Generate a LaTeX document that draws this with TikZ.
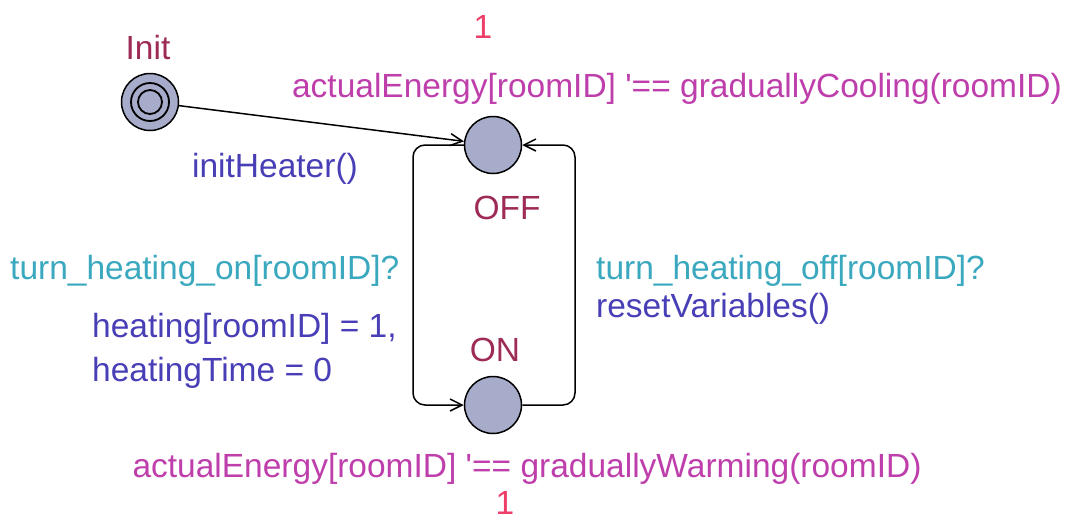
\documentclass[tikz,border=0pt]{standalone}
\usepackage{fontspec}
\setmainfont{Liberation Sans}
\usepackage{tikz}
\usetikzlibrary{arrows.meta, positioning}
\definecolor{locfill}{RGB}{166,172,202}
\definecolor{locname}{RGB}{158,42,86}
\definecolor{invcol}{RGB}{190,62,172}
\definecolor{ratecol}{RGB}{236,62,104}
\definecolor{synccol}{RGB}{58,168,190}
\definecolor{updcol}{RGB}{72,62,182}

\begin{document}
\begin{tikzpicture}[x=1pt, y=-1pt, font=\fontsize{33.5}{38}\selectfont,
    loc/.style={circle, draw, line width=1.5pt, fill=locfill, minimum size=57pt, inner sep=0pt},
    lbl/.style={inner sep=0pt},
    arr/.style={-{Straight Barb[length=12pt, width=12pt]}, line width=1.5pt, rounded corners=12pt}]
    \useasboundingbox (0,0) rectangle (1068,520);
    % locations
    \node[loc] (init) at (150,102) {};
    \draw[line width=1.8pt] (init.center) circle (19pt) (init.center) circle (12pt);
    \node[loc] (off) at (493,145) {};
    \node[loc] (on) at (493,405) {};
    % names
    \node[lbl, text=locname] (initname) at (148,47) {Init};
    \node[lbl, text=locname] (offname) at (507,208) {OFF};
    \node[lbl, text=locname] (onname) at (495,350) {ON};
    % invariants and rates
    \node[lbl, text=ratecol] (offrate) at (483,27) {1};
    \node[lbl, text=invcol] (offinv) at (677,89) {actualEnergy[roomID] \textquotesingle== graduallyCooling(roomID)};
    \node[lbl, text=invcol] (oninv) at (527,469) {actualEnergy[roomID] \textquotesingle== graduallyWarming(roomID)};
    \node[lbl, text=ratecol] (onrate) at (505,503) {1};
    % edges
    \coordinate (lt) at (413,145);
    \coordinate (lb) at (413,405);
    \coordinate (rt) at (575,145);
    \coordinate (rb) at (575,405);
    \draw[arr] (init) -- (off);
    \draw[arr] (off.west) -- (lt) -- (lb) -- (on.west);
    \draw[arr] (on.east) -- (rb) -- (rt) -- (off.east);
    % edge labels
    \node[lbl, text=updcol] (initupd) at (275,169) {initHeater()};
    \node[lbl, text=synccol, anchor=west] (onsync) at (10,271) {turn\_heating\_on[roomID]?};
    \node[lbl, text=updcol, anchor=west] (onupd1) at (92,329) {heating[roomID] = 1,};
    \node[lbl, text=updcol, anchor=west] (onupd2) at (92,373) {heatingTime = 0};
    \node[lbl, text=synccol, anchor=west] (offsync) at (596,271) {turn\_heating\_off[roomID]?};
    \node[lbl, text=updcol, anchor=west] (offupd) at (596,309) {resetVariables()};
\end{tikzpicture}
\end{document}
